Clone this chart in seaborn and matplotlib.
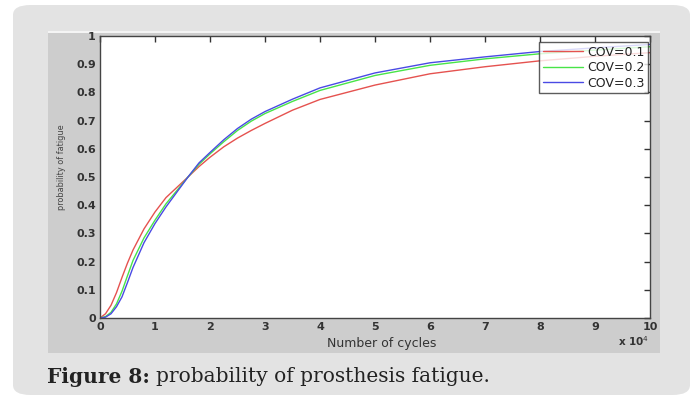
import numpy as np
import pandas as pd
import seaborn as sns
import matplotlib.pyplot as plt
from matplotlib.patches import FancyBboxPatch, Rectangle

# values (x in units of 1e4 cycles)
cycles = [0, 0.1, 0.2, 0.3, 0.4, 0.5, 0.6, 0.8, 1.0, 1.2, 1.6, 1.8, 2.0, 2.25,
          2.5, 2.75, 3.0, 3.5, 4.0, 5.0, 6.0, 7.0, 8.0, 9.0, 10.0]
p_cov1 = [0, 0.015, 0.045, 0.09, 0.144, 0.195, 0.241, 0.316, 0.376, 0.427, 0.5, 0.537, 0.57, 0.607,
          0.638, 0.665, 0.69, 0.737, 0.775, 0.826, 0.866, 0.891, 0.912, 0.928, 0.941]
p_cov2 = [0, 0.005, 0.02, 0.05, 0.095, 0.15, 0.204, 0.284, 0.347, 0.405, 0.5, 0.545, 0.582, 0.625,
          0.665, 0.698, 0.725, 0.768, 0.807, 0.86, 0.896, 0.919, 0.937, 0.95, 0.962]
p_cov3 = [0, 0.003, 0.015, 0.04, 0.075, 0.126, 0.179, 0.267, 0.335, 0.394, 0.5, 0.55, 0.587, 0.632,
          0.672, 0.705, 0.732, 0.776, 0.816, 0.869, 0.905, 0.926, 0.945, 0.958, 0.97]
labels = ["COV=0.1", "COV=0.2", "COV=0.3"]
colors = ["#e5524f", "#48e448", "#4a4ae4"]

df = pd.concat([pd.DataFrame({"cycles": cycles, "p": p, "cov": lab})
                for p, lab in zip([p_cov1, p_cov2, p_cov3], labels)])

sns.set_style("white")
fig = plt.figure(figsize=(6.99, 4.01), dpi=100)
fig.patch.set_facecolor("white")
W, H = 699, 401

# card and screenshot background (behind the axes)
fig.patches.append(FancyBboxPatch((13 / W, 6 / H), 677 / W, 390 / H,
                                  boxstyle="round,pad=0,rounding_size=0.025",
                                  transform=fig.transFigure, fc="#e3e3e3", ec="none", zorder=-3))
fig.patches.append(Rectangle((48 / W, 1 - 353 / H), 612 / W, 322 / H,
                             transform=fig.transFigure, fc="#cdcdcd", ec="none", zorder=-2))
fig.patches.append(Rectangle((48 / W, 1 - 33 / H), 612 / W, 2 / H,
                             transform=fig.transFigure, fc="#f4f4f4", ec="none", zorder=-2))

ax = fig.add_axes([100 / W, 1 - 318 / H, 550 / W, 282 / H])
ax.set_facecolor("white")
sns.lineplot(data=df, x="cycles", y="p", hue="cov", palette=colors, linewidth=1.0, ax=ax)

ax.set_xlim(0, 10)
ax.set_ylim(0, 1)
ax.set_xticks(range(0, 11))
ax.set_yticks(np.arange(0, 1.01, 0.1))
ax.set_yticklabels(["0"] + ["%.1f" % v for v in np.arange(0.1, 0.95, 0.1)] + ["1"])
ax.tick_params(direction="in", length=4, width=1, color="#333333", top=True, right=True,
               labelsize=8, labelcolor="#333333", pad=3)
for lab in ax.get_xticklabels() + ax.get_yticklabels():
    lab.set_fontweight("bold")
for s in ax.spines.values():
    s.set_color("#444444")
    s.set_linewidth(1.0)

ax.set_xlabel("")
ax.set_ylabel("")
fig.text(382 / W, 1 - 343 / H, "Number of cycles", ha="center", va="center",
         fontsize=9, color="#333333")
fig.text(62 / W, 1 - 167 / H, "probability of fatigue", ha="center", va="center",
         rotation=90, fontsize=6.5, color="#444444", fontstretch="condensed")
fig.text(634 / W, 1 - 341 / H, r"x 10$^4$", ha="center", va="center",
         fontsize=7.5, color="#333333", fontweight="bold")

leg = ax.legend(loc="upper right", bbox_to_anchor=(0.9965, 0.979), fontsize=9,
                frameon=True, fancybox=False, handlelength=3.2, handletextpad=0.3,
                borderpad=0.3, labelspacing=0.2, borderaxespad=0)
leg.get_frame().set_edgecolor("#333333")
leg.get_frame().set_linewidth(1.0)
for t in leg.get_texts():
    t.set_color("#222222")

# caption: bold part, then regular part placed right after it
cap1 = fig.text(47 / W, 1 - 377 / H, "Figure 8:", ha="left", va="center", fontsize=14.5,
                fontweight="bold", family="DejaVu Serif", color="#222222")
fig.canvas.draw()
bb = cap1.get_window_extent()
fig.text(bb.x1 / W + 6 / W, 1 - 377 / H, "probability of prosthesis fatigue.", ha="left",
         va="center", fontsize=14.5, family="DejaVu Serif", color="#222222")

fig.savefig("out.png", dpi=100)
